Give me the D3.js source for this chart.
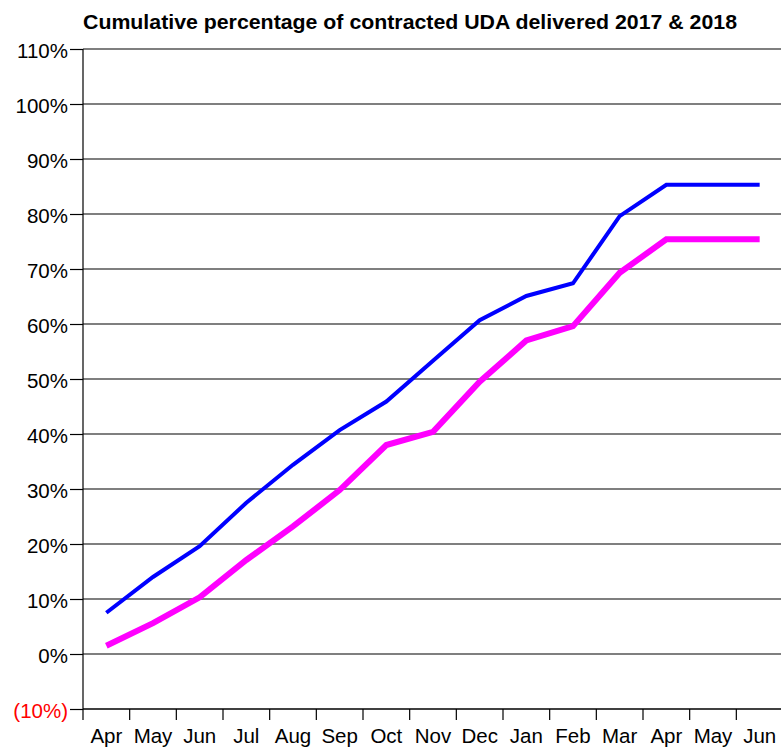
<!DOCTYPE html>
<html><head><meta charset="utf-8">
<script src="https://cdn.jsdelivr.net/npm/d3@7"></script>
<style>body{margin:0;background:#fff}svg{display:block}text{font-family:"Liberation Sans",Arial,sans-serif}</style>
</head><body>
<svg id="c" width="781" height="748"></svg>
<script>
const months = ["Apr","May","Jun","Jul","Aug","Sep","Oct","Nov","Dec","Jan","Feb","Mar","Apr","May","Jun"];
const series2017 = [7.5,14,19.6,27.5,34.4,40.7,45.9,53.3,60.7,65.1,67.4,79.6,85.3,85.3,85.3];
const series2018 = [1.5,5.6,10.3,17.1,23.2,29.8,38,40.4,49.5,57,59.6,69.3,75.4,75.4,75.4];
const yTicks = [-10,0,10,20,30,40,50,60,70,80,90,100,110];
const title = "Cumulative percentage of contracted UDA delivered 2017 & 2018";

(function(){
const svg = d3.select("#c");
const mL = 83, mR = 783, mT = 49, mB = 709;
const idx = d3.range(months.length);
const x = d3.scaleBand().domain(idx).range([mL, mR]);
const y = d3.scaleLinear().domain([-10,110]).range([mB, mT]);

svg.append("text").attr("x", 410).attr("y", 29).attr("text-anchor","middle")
  .attr("font-size", 21).attr("font-weight","bold").attr("textLength", 654)
  .attr("lengthAdjust","spacingAndGlyphs").text(title);

svg.append("g").selectAll("line").data(yTicks.filter(d=>d>=0)).join("line")
  .attr("x1", mL).attr("x2", 781).attr("y1", d=>y(d)).attr("y2", d=>y(d))
  .attr("stroke","#000").attr("stroke-width",1.2);

const yAxis = svg.append("g").attr("transform",`translate(${mL},0)`)
  .call(d3.axisLeft(y).tickValues(yTicks).tickSize(13).tickPadding(2)
    .tickFormat(d => d < 0 ? `(${-d}%)` : `${d}%`));
yAxis.select(".domain").remove();
yAxis.selectAll("line").attr("stroke","#000").attr("stroke-width",1.2);
yAxis.selectAll("text").attr("font-size",20.5).attr("dy","0.42em")
  .attr("font-family","Liberation Sans, Arial, sans-serif")
  .attr("fill", d => d < 0 ? "#ff0000" : "#000");
svg.append("line").attr("x1",mL).attr("x2",mL).attr("y1",mT).attr("y2",mB+11)
  .attr("stroke","#000").attr("stroke-width",1.2);

svg.append("line").attr("x1",mL).attr("x2",781).attr("y1",mB).attr("y2",mB)
  .attr("stroke","#000").attr("stroke-width",1.5);
svg.append("g").selectAll("line").data(idx.slice(1)).join("line")
  .attr("x1", d=>x(d)).attr("x2", d=>x(d)).attr("y1", mB).attr("y2", mB+11)
  .attr("stroke","#000").attr("stroke-width",1.2);
svg.append("g").selectAll("text").data(idx).join("text")
  .attr("x", d=>x(d)+x.bandwidth()/2).attr("y", mB+34).attr("text-anchor","middle")
  .attr("font-size",20.5).text(d=>months[d]);

const line = d3.line().x((d,i)=>x(i)+x.bandwidth()/2).y(d=>y(d));
svg.append("path").datum(series2018).attr("d", line).attr("fill","none")
  .attr("stroke","#ff00ff").attr("stroke-width",6);
svg.append("path").datum(series2017).attr("d", line).attr("fill","none")
  .attr("stroke","#0000ff").attr("stroke-width",4);
})();
</script>
</body></html>
